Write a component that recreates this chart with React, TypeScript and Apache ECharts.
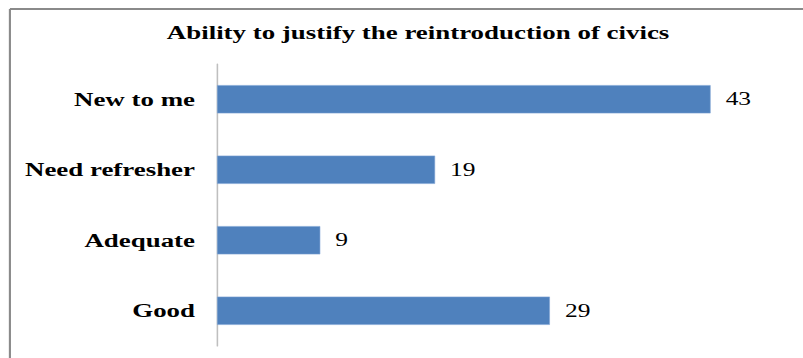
import React, { useEffect, useRef } from "react";
import * as echarts from "echarts";

const categories = ["New to me", "Need refresher", "Adequate", "Good"];
const values = [43, 19, 9, 29];
const titleText = "Ability to justify the reintroduction of civics";

// The reference is a horizontally stretched picture; render narrower and stretch.
const OUT_W = 803;
const OUT_H = 358;
const INNER_W = 567;
const SX = OUT_W / INNER_W;

export default function App() {
  const ref = useRef<HTMLDivElement>(null);
  useEffect(() => {
    if (!ref.current) return;
    const chart = echarts.init(ref.current, undefined, { renderer: "svg" });
    chart.setOption({
      animation: false,
      backgroundColor: "#ffffff",
      title: {
        text: titleText,
        left: 411 / SX,
        textAlign: "center",
        top: 18,
        textStyle: {
          fontFamily: "Liberation Serif",
          fontWeight: "bold",
          fontSize: 19,
          color: "#000",
        },
      },
      graphic: [
        { type: "line", shape: { x1: 7, y1: 9, x2: INNER_W, y2: 9 }, style: { stroke: "#8a8a8a", lineWidth: 2 } },
        { type: "line", shape: { x1: 7, y1: 9, x2: 7, y2: OUT_H }, style: { stroke: "#8a8a8a", lineWidth: 1.5 } },
      ],
      grid: { left: 217 / SX, right: INNER_W - 791 / SX, top: 64, bottom: 12, containLabel: false },
      xAxis: {
        type: "value",
        min: 0,
        max: 50,
        show: false,
      },
      yAxis: {
        type: "category",
        data: categories,
        inverse: true,
        axisLine: { show: true, lineStyle: { color: "#bfbfbf", width: 1.1 } },
        axisTick: { show: false },
        axisLabel: {
          margin: 22 / SX,
          fontFamily: "Liberation Serif",
          fontWeight: "bold",
          fontSize: 19,
          color: "#000",
        },
      },
      series: [
        {
          type: "bar",
          data: values,
          barCategoryGap: "60%",
          itemStyle: { color: "#4f81bd", borderColor: "#7fa3d3", borderWidth: 0.5 },
          label: {
            show: true,
            position: "right",
            distance: 15 / SX,
            fontFamily: "Liberation Serif",
            fontSize: 18,
            color: "#000",
          },
        },
      ],
    });
    return () => chart.dispose();
  }, []);
  return (
    <div
      ref={ref}
      style={{
        position: "absolute",
        left: 0,
        top: 0,
        width: INNER_W,
        height: OUT_H,
        transform: `scaleX(${SX})`,
        transformOrigin: "0 0",
      }}
    />
  );
}
